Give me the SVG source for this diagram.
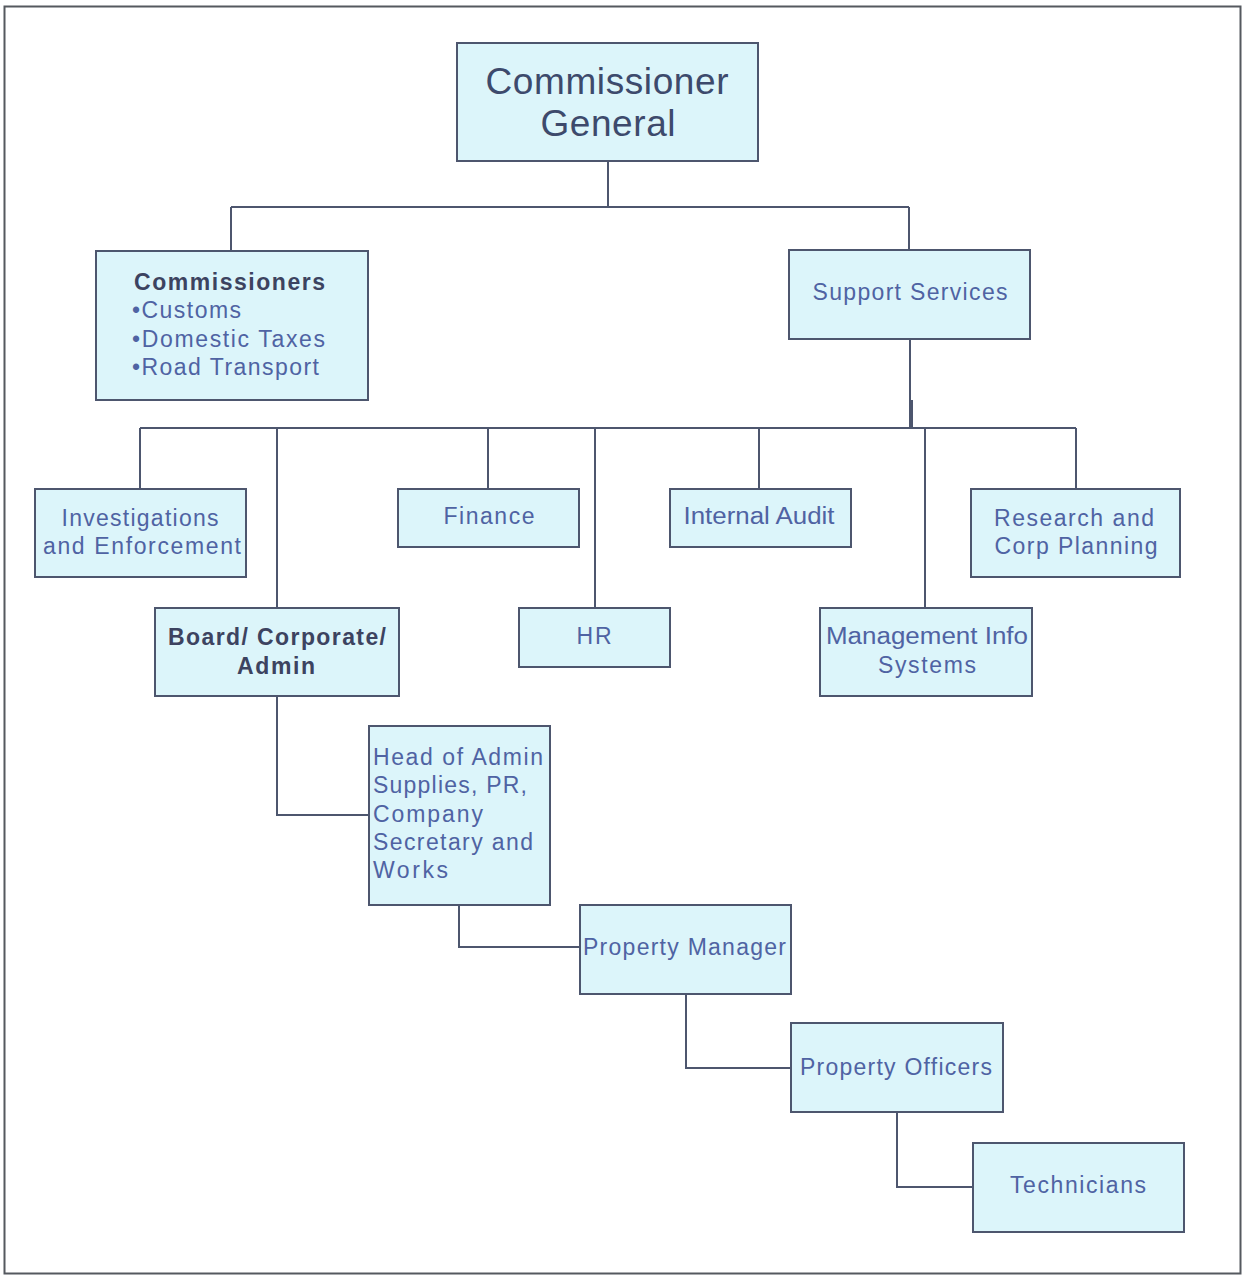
<svg xmlns="http://www.w3.org/2000/svg" width="1249" height="1276" viewBox="0 0 1249 1276">
  <style>
    .box { fill: #dcf5fa; stroke: #4d566e; stroke-width: 2; }
    .wire { fill: none; stroke: #4d566e; stroke-width: 2; }
    .lbl { font-family: "Liberation Sans", Arial, sans-serif; font-size: 23px; fill: #4f63a3; }
    .mid { text-anchor: middle; }
    .bold { font-weight: bold; fill: #3c4360; }
    .title { font-size: 37px; fill: #3d4a6c; }
  </style>
  <rect width="1249" height="1276" fill="#ffffff"/>
  <!-- page frame -->
  <rect x="4.5" y="6.5" width="1236" height="1267" fill="none" stroke="#55595f" stroke-width="2"/>

  <g id="connectors">
    <path class="wire" d="M608 161 V207 M231 207 H909 M231 207 V251 M909 207 V250"/>
    <path class="wire" d="M910 339 V428 M140 428 H1076"/>
    <path class="wire" d="M912 400 V428" stroke-width="3"/>
    <path class="wire" d="M140 428 V489 M277 428 V608 M488 428 V489 M595 428 V608 M759 428 V489 M925 428 V608 M1076 428 V489"/>
    <path class="wire" d="M277 696 V815 H369"/>
    <path class="wire" d="M459 905 V947 H580"/>
    <path class="wire" d="M686 994 V1068 H791"/>
    <path class="wire" d="M897 1112 V1187 H973"/>
  </g>

  <g id="commissioner-general">
    <rect class="box" x="457" y="43" width="301" height="118"/>
    <text class="lbl title mid" x="607" y="94" textLength="243">Commissioner</text>
    <text class="lbl title mid" x="608" y="136" textLength="135">General</text>
  </g>

  <g id="commissioners">
    <rect class="box" x="96" y="251" width="272" height="149"/>
    <text class="lbl bold" x="134" y="290" textLength="191">Commissioners</text>
    <text class="lbl" x="132" y="318" textLength="109">•Customs</text>
    <text class="lbl" x="132" y="347" textLength="193">•Domestic Taxes</text>
    <text class="lbl" x="132" y="375" textLength="187">•Road Transport</text>
  </g>

  <g id="support-services">
    <rect class="box" x="789" y="250" width="241" height="89"/>
    <text class="lbl mid" x="910" y="300" textLength="195">Support Services</text>
  </g>

  <g id="investigations">
    <rect class="box" x="35" y="489" width="211" height="88"/>
    <text class="lbl mid" x="140" y="526" textLength="157">Investigations</text>
    <text class="lbl mid" x="142" y="554" textLength="198">and Enforcement</text>
  </g>

  <g id="finance">
    <rect class="box" x="398" y="489" width="181" height="58"/>
    <text class="lbl mid" x="489" y="524" textLength="91">Finance</text>
  </g>

  <g id="internal-audit">
    <rect class="box" x="670" y="489" width="181" height="58"/>
    <text class="lbl mid" x="759" y="524" textLength="151" lengthAdjust="spacingAndGlyphs">Internal Audit</text>
  </g>

  <g id="research">
    <rect class="box" x="971" y="489" width="209" height="88"/>
    <text class="lbl mid" x="1074" y="526" textLength="160">Research and</text>
    <text class="lbl mid" x="1076" y="554" textLength="163">Corp Planning</text>
  </g>

  <g id="board-corporate-admin">
    <rect class="box" x="155" y="608" width="244" height="88"/>
    <text class="lbl bold mid" x="277" y="645" textLength="218">Board/ Corporate/</text>
    <text class="lbl bold mid" x="276" y="674" textLength="78">Admin</text>
  </g>

  <g id="hr">
    <rect class="box" x="519" y="608" width="151" height="59"/>
    <text class="lbl mid" x="594" y="644" textLength="35">HR</text>
  </g>

  <g id="management-info-systems">
    <rect class="box" x="820" y="608" width="212" height="88"/>
    <text class="lbl mid" x="927" y="644" textLength="202" lengthAdjust="spacingAndGlyphs">Management Info</text>
    <text class="lbl mid" x="927" y="673" textLength="98">Systems</text>
  </g>

  <g id="head-of-admin">
    <rect class="box" x="369" y="726" width="181" height="179"/>
    <text class="lbl" x="373" y="765" textLength="170">Head of Admin</text>
    <text class="lbl" x="373" y="793" textLength="154">Supplies, PR,</text>
    <text class="lbl" x="373" y="822" textLength="110">Company</text>
    <text class="lbl" x="373" y="850" textLength="160">Secretary and</text>
    <text class="lbl" x="373" y="878" textLength="75">Works</text>
  </g>

  <g id="property-manager">
    <rect class="box" x="580" y="905" width="211" height="89"/>
    <text class="lbl" x="583" y="955" textLength="203">Property Manager</text>
  </g>

  <g id="property-officers">
    <rect class="box" x="791" y="1023" width="212" height="89"/>
    <text class="lbl" x="800" y="1075" textLength="192">Property Officers</text>
  </g>

  <g id="technicians">
    <rect class="box" x="973" y="1143" width="211" height="89"/>
    <text class="lbl" x="1010" y="1193" textLength="136">Technicians</text>
  </g>
</svg>
